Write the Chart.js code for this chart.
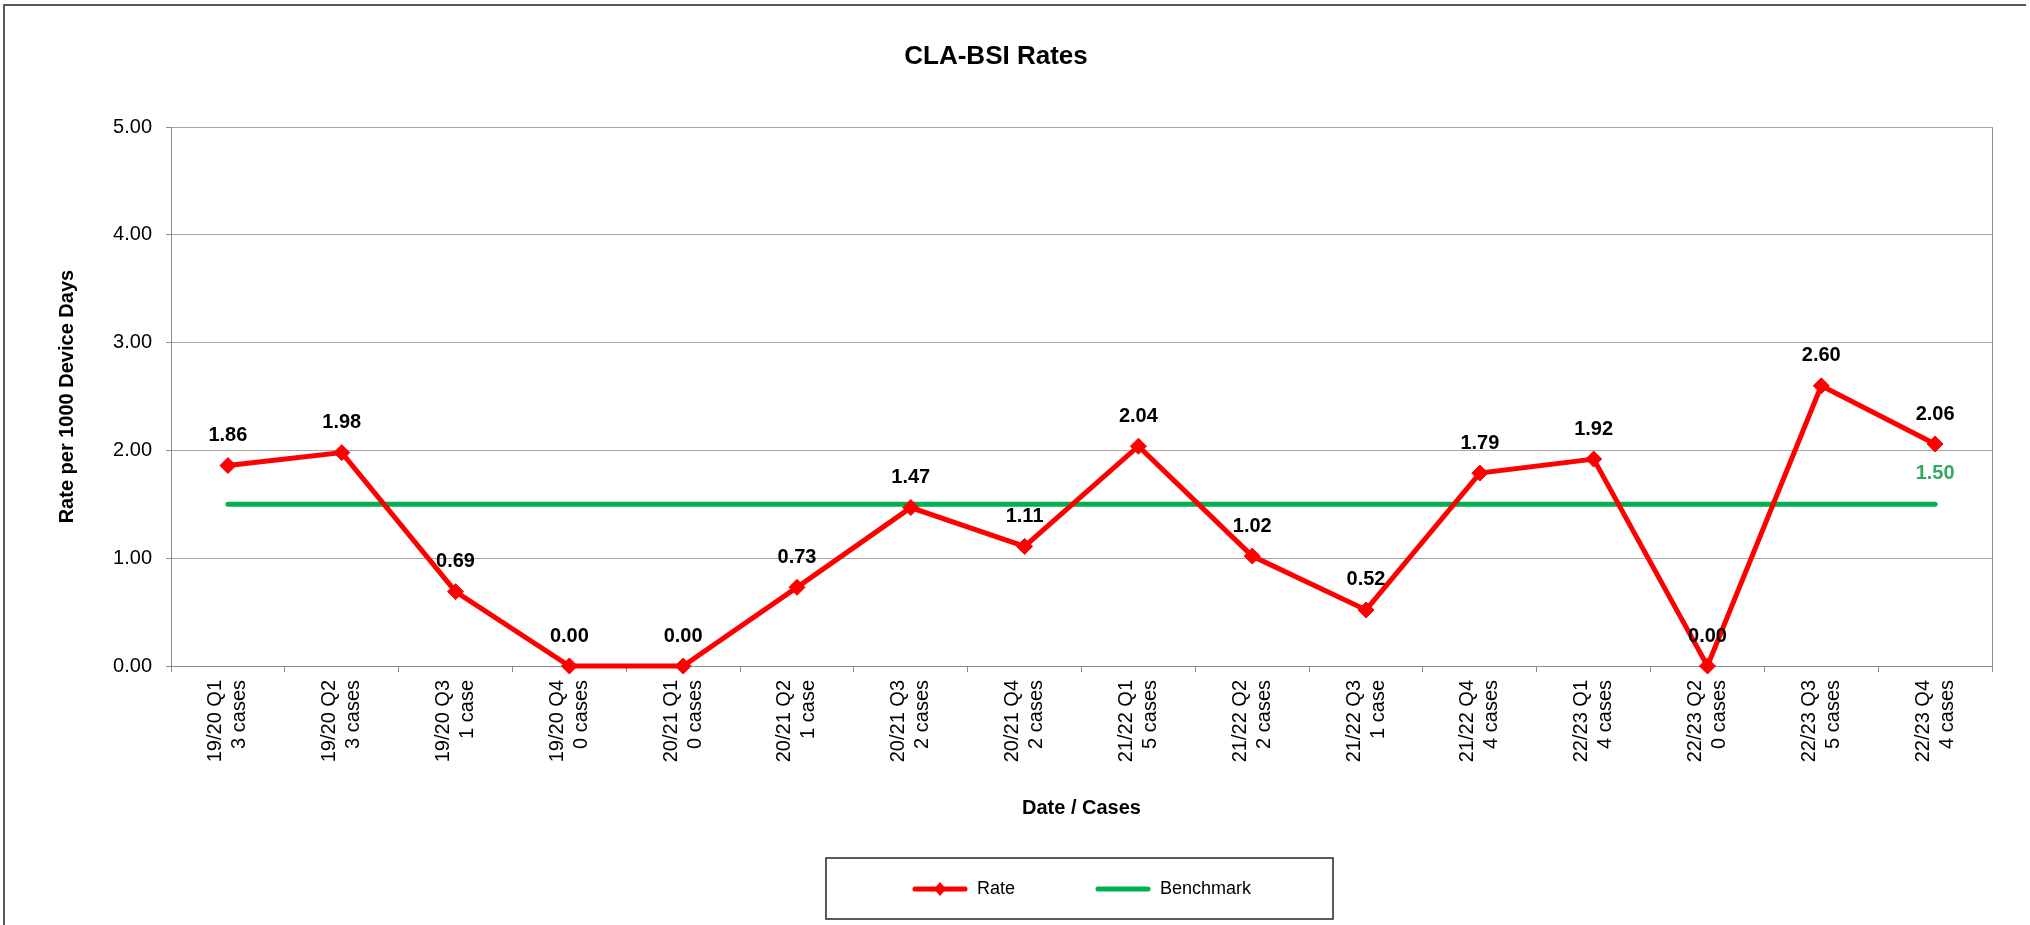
<!DOCTYPE html>
<html>
<head>
<meta charset="utf-8">
<title>CLA-BSI Rates</title>
<script src="https://cdn.jsdelivr.net/npm/chart.js@4.4.0/dist/chart.umd.min.js"></script>
<style>
    html, body { margin: 0; padding: 0; background: #fff; }
    canvas { display: block; }
</style>
</head>
<body>
<canvas id="rateChart" width="2030" height="925"></canvas>
<script>
const periods = ['19/20 Q1', '19/20 Q2', '19/20 Q3', '19/20 Q4', '20/21 Q1', '20/21 Q2', '20/21 Q3', '20/21 Q4',
    '21/22 Q1', '21/22 Q2', '21/22 Q3', '21/22 Q4', '22/23 Q1', '22/23 Q2', '22/23 Q3', '22/23 Q4'];
const caseCounts = ['3 cases', '3 cases', '1 case', '0 cases', '0 cases', '1 case', '2 cases', '2 cases',
    '5 cases', '2 cases', '1 case', '4 cases', '4 cases', '0 cases', '5 cases', '4 cases'];
const rates = [1.86, 1.98, 0.69, 0.00, 0.00, 0.73, 1.47, 1.11, 2.04, 1.02, 0.52, 1.79, 1.92, 0.00, 2.60, 2.06];
const benchmark = [1.5, 1.5, 1.5, 1.5, 1.5, 1.5, 1.5, 1.5, 1.5, 1.5, 1.5, 1.5, 1.5, 1.5, 1.5, 1.5];
const yMin = 0;
const yMax = 5;
const yStep = 1;

const FONT = '"Liberation Sans", Arial, sans-serif';
const RED = '#ff0000';
const GREEN = '#00b050';
const AXIS_GREY = '#8c8c8c';

// little line samples for the legend (line + diamond for Rate)
function legendIcon(color, marker) {
    const c = document.createElement('canvas');
    c.width = 56;
    c.height = 18;
    const g = c.getContext('2d');
    g.strokeStyle = color;
    g.lineWidth = 5;
    g.lineCap = 'round';
    g.beginPath();
    g.moveTo(3, 9);
    g.lineTo(53, 9);
    g.stroke();
    if (marker) {
        g.fillStyle = color;
        g.beginPath();
        g.moveTo(28, 2);
        g.lineTo(34, 9);
        g.lineTo(28, 16);
        g.lineTo(22, 9);
        g.closePath();
        g.fill();
    }
    return c;
}
const legendIcons = [legendIcon(RED, true), legendIcon(GREEN, false)];

const framePlugin = {
    id: 'frame',
    beforeDraw: (chart) => {
        const { ctx, width, height } = chart;
        ctx.save();
        ctx.fillStyle = '#fff';
        ctx.fillRect(0, 0, width, height);
        ctx.strokeStyle = '#595959';
        ctx.lineWidth = 2;
        ctx.beginPath();
        ctx.moveTo(4, height);
        ctx.lineTo(4, 5);
        ctx.lineTo(width - 4, 5);
        ctx.stroke();
        ctx.restore();
    },
    afterDraw: (chart) => {
        // box round the legend
        const boxes = chart.legend.legendHitBoxes;
        if (!boxes || !boxes.length) return;
        const first = boxes[0];
        const last = boxes[boxes.length - 1];
        const cy = first.top + first.height / 2;
        const ctx = chart.ctx;
        ctx.save();
        ctx.strokeStyle = '#262626';
        ctx.lineWidth = 1.5;
        ctx.strokeRect(first.left - 86, cy - 31, last.left + last.width + 82 - (first.left - 86), 61);
        ctx.restore();
    },
};

const pointLabels = {
    id: 'pointLabels',
    afterDatasetsDraw: (chart) => {
        const ctx = chart.ctx;
        ctx.save();
        ctx.font = 'bold 20px ' + FONT;
        ctx.textAlign = 'center';
        ctx.textBaseline = 'middle';
        ctx.fillStyle = '#000';
        chart.getDatasetMeta(0).data.forEach((pt, i) => {
            ctx.fillText(rates[i].toFixed(2), pt.x, pt.y - 30);
        });
        const bm = chart.getDatasetMeta(1).data;
        const lastPt = bm[bm.length - 1];
        ctx.fillStyle = '#33a95b';
        ctx.fillText(benchmark[benchmark.length - 1].toFixed(2), lastPt.x, lastPt.y - 31);
        ctx.restore();
    },
};

const ctx = document.getElementById('rateChart').getContext('2d');
const rateChart = new Chart(ctx, {
    type: 'line',
    data: {
        labels: periods.map((p, i) => [p, caseCounts[i]]),
        datasets: [
            {
                label: 'Rate',
                data: rates,
                borderColor: RED,
                backgroundColor: RED,
                borderWidth: 5,
                tension: 0,
                pointStyle: 'rectRot',
                pointRadius: 8,
                pointBorderWidth: 1,
                pointBackgroundColor: RED,
                pointBorderColor: RED,
                clip: false,
            },
            {
                label: 'Benchmark',
                data: benchmark,
                borderColor: GREEN,
                backgroundColor: GREEN,
                borderWidth: 5,
                borderCapStyle: 'round',
                tension: 0,
                pointRadius: 0,
                clip: false,
            },
        ],
    },
    options: {
        responsive: false,
        animation: false,
        events: [],
        devicePixelRatio: 1,
        layout: {
            padding: { top: 0, left: 0, right: 38, bottom: 17 },
        },
        scales: {
            x: {
                offset: true,
                grid: {
                    offset: true,
                    drawOnChartArea: true,
                    color: (c) => (c.type === 'tick' ? 'transparent' : AXIS_GREY),
                    tickColor: AXIS_GREY,
                    tickLength: 6,
                },
                border: { color: AXIS_GREY, width: 1 },
                ticks: {
                    autoSkip: false,
                    minRotation: 90,
                    maxRotation: 90,
                    labelOffset: -12,
                    padding: 8,
                    color: '#000',
                    font: { size: 20, family: FONT },
                },
                title: {
                    display: true,
                    text: 'Date / Cases',
                    color: '#000',
                    font: { size: 20, weight: 'bold', family: FONT },
                    padding: { top: 10, bottom: -20 },
                },
                afterFit: (scale) => {
                    scale.height = 134;
                },
            },
            y: {
                min: yMin,
                max: yMax,
                ticks: {
                    stepSize: yStep,
                    callback: (v) => v.toFixed(2),
                    color: '#000',
                    padding: 14,
                    font: { size: 20, family: FONT },
                },
                grid: {
                    color: '#a6a6a6',
                    tickColor: AXIS_GREY,
                    tickLength: 5,
                },
                border: { color: AXIS_GREY, width: 1 },
                title: {
                    display: true,
                    text: 'Rate per 1000 Device Days',
                    color: '#000',
                    font: { size: 20, weight: 'bold', family: FONT },
                    padding: { top: 55, bottom: 0 },
                },
                afterFit: (scale) => {
                    scale.width = 171;
                },
            },
        },
        plugins: {
            title: {
                display: true,
                text: 'CLA-BSI Rates',
                color: '#000',
                font: { size: 26, weight: 'bold', family: FONT },
                padding: { top: 41, bottom: 55 },
            },
            legend: {
                position: 'bottom',
                fullSize: false,
                labels: {
                    usePointStyle: true,
                    pointStyleWidth: 56,
                    padding: 80,
                    color: '#000',
                    font: { size: 18, family: FONT },
                    generateLabels: (chart) =>
                        Chart.defaults.plugins.legend.labels.generateLabels(chart).map((item, i) => ({
                            ...item,
                            pointStyle: legendIcons[i],
                        })),
                },
            },
            tooltip: { enabled: false },
        },
    },
    plugins: [framePlugin, pointLabels],
});
</script>
</body>
</html>
